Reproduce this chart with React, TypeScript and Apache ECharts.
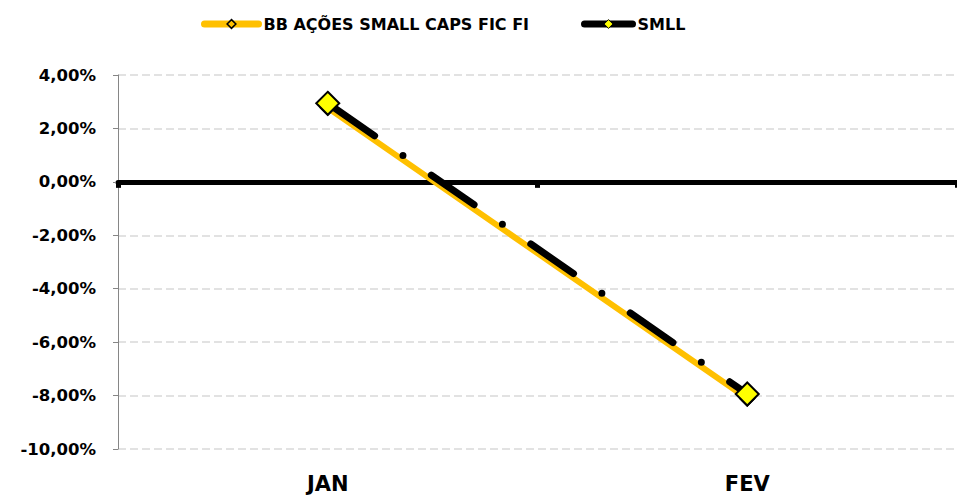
import React, { useEffect, useRef } from "react";
import * as echarts from "echarts";

const categories = ["JAN", "FEV"];
const bbName = "BB AÇÕES SMALL CAPS FIC FI";
const smllName = "SMLL";
const bbValues = [2.77, -8.11];
const smllValues = [2.94, -7.94];
const yMin = -10;
const yMax = 4;
const yStep = 2;

const FONT = "DejaVu Sans";

export default function App() {
  const ref = useRef<HTMLDivElement>(null);
  useEffect(() => {
    if (!ref.current) return;
    const chart = echarts.init(ref.current, null, { renderer: "svg" });
    const textBase = { fontFamily: FONT, fontWeight: "bold" as const, color: "#000" };
    chart.setOption({
      animation: false,
      backgroundColor: "#ffffff",
      legend: [
        {
          left: 196,
          top: 11,
          itemWidth: 54,
          itemHeight: 11,
          textStyle: { ...textBase, fontSize: 16 },
          data: [
            {
              name: bbName,
              itemStyle: { color: "#FFC000", borderColor: "#000", borderWidth: 1.5 },
              lineStyle: { color: "#FFC000", width: 7, type: "solid", cap: "round" },
            },
          ],
        },
        {
          left: 576,
          top: 11,
          itemWidth: 48,
          itemHeight: 11,
          textStyle: { ...textBase, fontSize: 16 },
          data: [
            {
              name: smllName,
              itemStyle: { color: "#FFFF00", borderColor: "#000", borderWidth: 1 },
              lineStyle: { color: "#000", width: 7, type: "solid", cap: "round" },
            },
          ],
        },
      ],
      grid: { left: 118, top: 75, width: 846, height: 374 },
      xAxis: [
        {
          type: "category",
          data: categories,
          position: "bottom",
          boundaryGap: true,
          axisLine: { show: true, onZero: true, lineStyle: { color: "#000", width: 5 } },
          axisTick: { show: true, length: 6, lineStyle: { color: "#000", width: 5 } },
          axisLabel: { show: false },
          splitLine: { show: false },
        },
        {
          type: "category",
          data: categories,
          position: "bottom",
          boundaryGap: true,
          axisLine: { show: false, onZero: false },
          axisTick: { show: false },
          axisLabel: { ...textBase, margin: 24, fontSize: 21 },
          splitLine: { show: false },
        },
      ],
      yAxis: {
        type: "value",
        min: yMin,
        max: yMax,
        interval: yStep,
        axisLine: { show: true, lineStyle: { color: "#868686", width: 1 } },
        axisTick: { show: true, length: 5, lineStyle: { color: "#868686" } },
        axisLabel: {
          ...textBase,
          margin: 22,
          fontSize: 16.5,
          formatter: (v: number) => v.toFixed(2).replace(".", ",") + "%",
        },
        splitLine: { show: true, lineStyle: { color: "#d9d9d9", width: 1.5, type: [8, 4] } },
      },
      series: [
        {
          name: bbName,
          type: "line",
          data: bbValues,
          xAxisIndex: 0,
          symbol: "diamond",
          symbolSize: 14,
          z: 2,
          lineStyle: { color: "#FFC000", width: 6, cap: "round" },
          itemStyle: { color: "#FFFF00", borderColor: "#000", borderWidth: 2 },
        },
        {
          name: smllName,
          type: "line",
          data: smllValues,
          xAxisIndex: 0,
          symbol: "diamond",
          symbolSize: 23,
          z: 3,
          lineStyle: {
            color: "#000",
            width: 7,
            type: [52, 34.5, 0, 34.5],
            dashOffset: -5,
            cap: "round",
          },
          itemStyle: { color: "#FFFF00", borderColor: "#000", borderWidth: 2 },
        },
      ],
    });
    return () => chart.dispose();
  }, []);
  return (
    <div
      ref={ref}
      style={{ position: "fixed", left: 0, top: 0, width: 957, height: 495 }}
    />
  );
}
